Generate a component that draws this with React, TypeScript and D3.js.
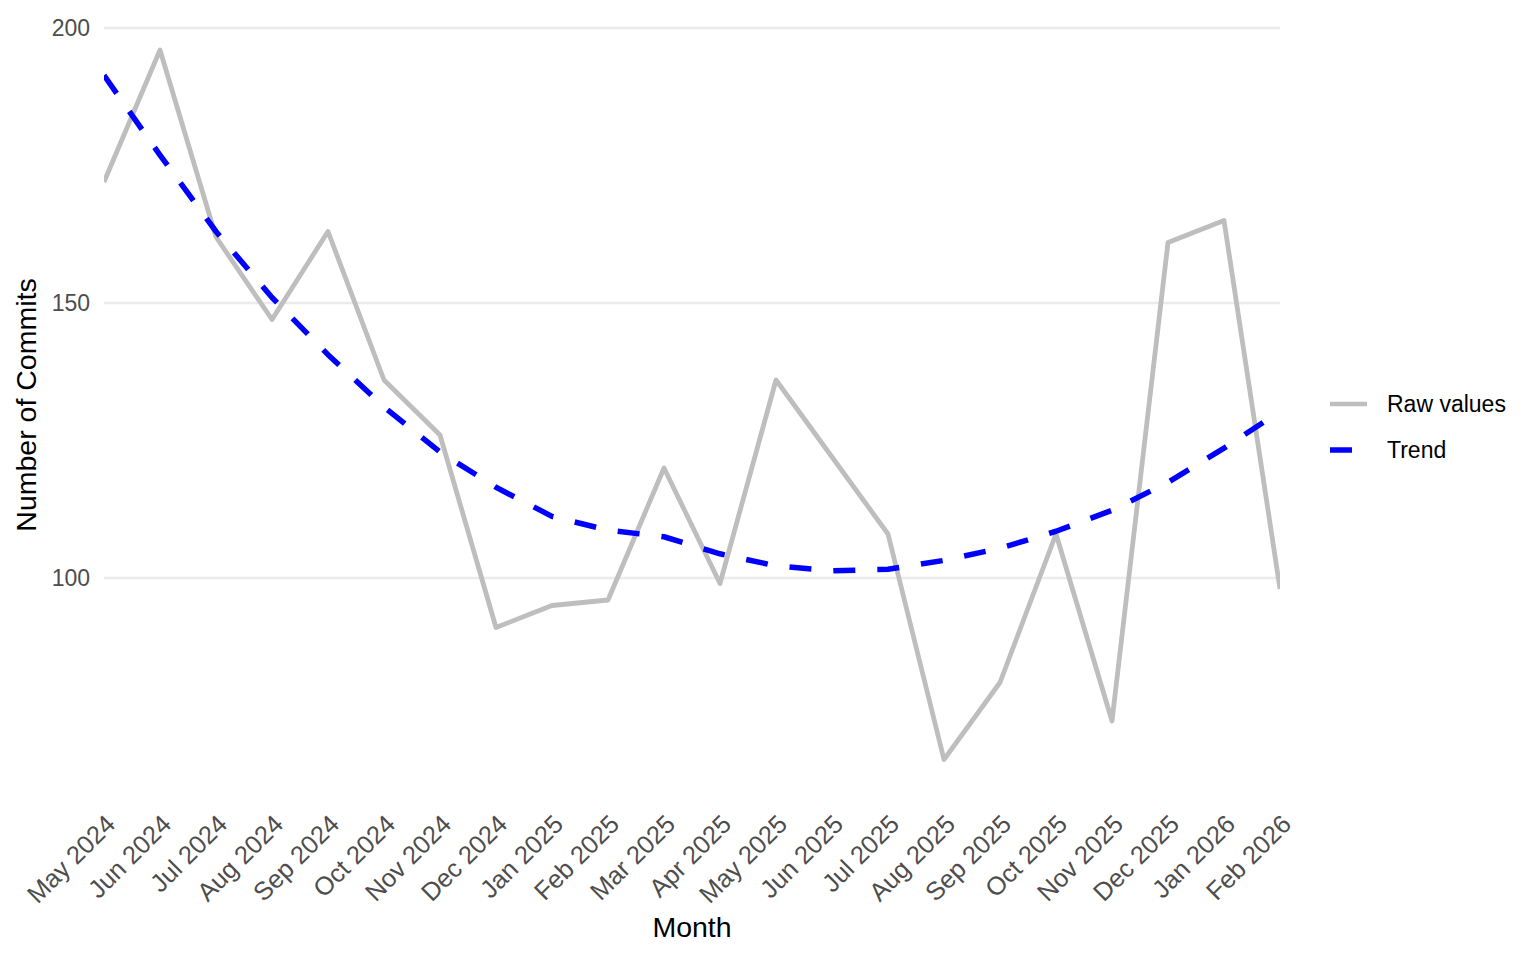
import React from "react";
import * as d3 from "d3";

const months: string[] = [
  "May 2024", "Jun 2024", "Jul 2024", "Aug 2024", "Sep 2024", "Oct 2024",
  "Nov 2024", "Dec 2024", "Jan 2025", "Feb 2025", "Mar 2025", "Apr 2025",
  "May 2025", "Jun 2025", "Jul 2025", "Aug 2025", "Sep 2025", "Oct 2025",
  "Nov 2025", "Dec 2025", "Jan 2026", "Feb 2026",
];

const rawValues: number[] = [
  172, 196, 162, 147, 163, 136, 126, 91, 95, 96, 120, 99,
  136, 122, 108, 67, 81, 108, 74, 161, 165, 98,
];

const trendValues: number[] = [
  191.4, 176.9, 163.0, 151.0, 140.6, 131.1, 122.9, 116.5, 111.2, 108.7, 107.5, 104.4,
  102.2, 101.3, 101.6, 103.2, 105.4, 108.5, 112.3, 117.4, 123.6, 130.3,
];

const yTicks: number[] = [100, 150, 200];

const legendItems = [
  { label: "Raw values", color: "#BEBEBE", dash: "none", width: 4.7 },
  { label: "Trend", color: "#0000FF", dash: "22 22", width: 5.5 },
];

const FONT = "'Liberation Sans', Arial, Helvetica, sans-serif";

export default function App() {
  const W = 1536;
  const H = 960;
  const left = 104;
  const right = 1280;
  const top = 13;
  const bottom = 797;

  const x = d3.scalePoint<string>().domain(months).range([left, right]).padding(0);
  const y = d3.scaleLinear().domain([100, 200]).range([578, 28]);

  const line = d3
    .line<number>()
    .x((_, i) => x(months[i]) as number)
    .y((d) => y(d))
    .curve(d3.curveLinear);

  const rawPath = line(rawValues) || "";
  const trendPath = line(trendValues) || "";

  return (
    <svg
      width={W}
      height={H}
      style={{ position: "absolute", left: 0, top: 0, display: "block", background: "#fff" }}
      fontFamily={FONT}
    >
      <defs>
        <clipPath id="panel">
          <rect x={left} y={top} width={right - left} height={bottom - top} />
        </clipPath>
      </defs>
      <rect x={0} y={0} width={W} height={H} fill="#fff" />

      {yTicks.map((t) => (
        <g key={t}>
          <line x1={left} x2={right} y1={y(t)} y2={y(t)} stroke="#EBEBEB" strokeWidth={2.6} />
          <text
            x={90}
            y={y(t)}
            dy="0.36em"
            textAnchor="end"
            fontSize={23}
            fill="#4D4D4D"
          >
            {t}
          </text>
        </g>
      ))}

      <g clipPath="url(#panel)">
        <path d={rawPath} fill="none" stroke="#BEBEBE" strokeWidth={4.8} strokeLinejoin="round" />
        <path
          d={trendPath}
          fill="none"
          stroke="#0000FF"
          strokeWidth={5.5}
          strokeDasharray="22 22"
          strokeLinecap="butt"
          strokeLinejoin="round"
        />
      </g>

      {months.map((m) => {
        const px = (x(m) as number) + 12.9;
        const py = 825.6;
        return (
          <text
            key={m}
            transform={`translate(${px},${py}) rotate(-45)`}
            textAnchor="end"
            fontSize={25.5}
            fill="#4D4D4D"
          >
            {m}
          </text>
        );
      })}

      <text x={(left + right) / 2} y={936.7} textAnchor="middle" fontSize={28.5} fill="#000">
        Month
      </text>
      <text
        transform={`translate(36,${(top + bottom) / 2}) rotate(-90)`}
        textAnchor="middle"
        fontSize={28.5}
        fill="#000"
      >
        Number of Commits
      </text>

      {legendItems.map((it, i) => {
        const ly = 404 + i * 46;
        return (
          <g key={it.label}>
            <line
              x1={1330}
              x2={1367}
              y1={ly}
              y2={ly}
              stroke={it.color}
              strokeWidth={it.width}
              strokeDasharray={it.dash}
            />
            <text x={1387} y={ly + 8.2} fontSize={23} fill="#000">
              {it.label}
            </text>
          </g>
        );
      })}
    </svg>
  );
}
